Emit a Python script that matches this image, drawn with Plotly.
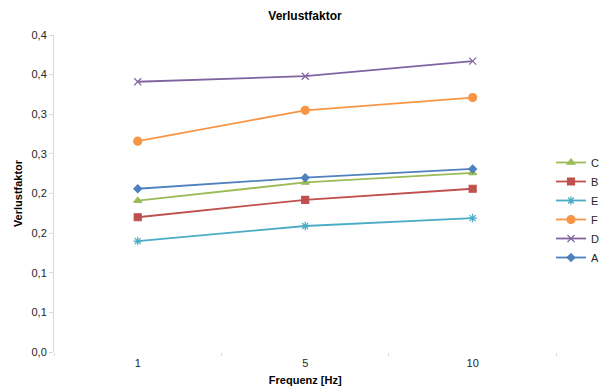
import plotly.graph_objects as go

# Frequencies (categories on the x axis)
frequenzen = ["1", "5", "10"]

# Loss factor per sample, one list per series
verlust_C = [0.191, 0.214, 0.226]
verlust_B = [0.170, 0.192, 0.206]
verlust_E = [0.140, 0.159, 0.169]
verlust_F = [0.266, 0.305, 0.321]
verlust_D = [0.341, 0.348, 0.367]
verlust_A = [0.206, 0.220, 0.231]

# y ticks every 0.05, labelled with one decimal and a decimal comma
y_tickvals = [0.0, 0.05, 0.10, 0.15, 0.20, 0.25, 0.30, 0.35, 0.40]
y_ticktext = ["0,0", "0,1", "0,1", "0,2", "0,2", "0,3", "0,3", "0,4", "0,4"]

series = [
    ("C", verlust_C, "#9BBB59", "triangle-up", 7),
    ("B", verlust_B, "#C0504D", "square", 7),
    ("E", verlust_E, "#4BACC6", "asterisk-open", 7),
    ("F", verlust_F, "#F79646", "circle", 8),
    ("D", verlust_D, "#8064A2", "x-thin-open", 7),
    ("A", verlust_A, "#4F81BD", "diamond", 6),
]

fig = go.Figure()
for name, vals, color, symbol, size in series:
    fig.add_trace(go.Scatter(
        x=frequenzen, y=vals, name=name, mode="lines+markers",
        line=dict(color=color, width=1.8),
        marker=dict(symbol=symbol, size=size, color=color,
                    line=dict(color=color, width=1.2)),
    ))

font_family = "Liberation Sans, Arial, sans-serif"

# Plot area spans the left 507 px of the 550 px wide paper; the legend sits
# in the remaining strip on the right, inside the paper.
W, H = 604, 387
ML, MR, MT, MB = 54, 0, 35, 35
paper_w = W - ML - MR
paper_h = H - MT - MB
plot_w = 507
legend_center_px = 210  # from the top of the page

fig.update_layout(
    width=W, height=H,
    margin=dict(l=ML, r=MR, t=MT, b=MB),
    paper_bgcolor="white", plot_bgcolor="white",
    font=dict(family=font_family, size=11, color="#262626"),
    title=dict(text="<b>Verlustfaktor</b>", x=0.505, xanchor="center",
               y=0.958, yanchor="middle",
               font=dict(size=12, color="#000000")),
    showlegend=True,
    legend=dict(x=(556 - ML) / paper_w, xanchor="left",
                y=(H - MB - legend_center_px) / paper_h,
                yanchor="middle",
                traceorder="normal", itemwidth=30,
                font=dict(size=11, color="#262626"),
                bgcolor="rgba(0,0,0,0)", tracegroupgap=0),
    xaxis=dict(
        type="category", range=[-0.5, 2.5], automargin=False,
        domain=[0, plot_w / paper_w],
        showline=False, showgrid=False, zeroline=False,
        ticks="outside", tickson="boundaries", ticklen=3,
        tickcolor="#d9d9d9", tickfont=dict(size=11, color="#262626"),
        ticklabelstandoff=3,
        title=dict(text="<b>Frequenz [Hz]</b>", standoff=8,
                   font=dict(size=11, color="#000000")),
    ),
    yaxis=dict(
        range=[0, 0.4], tickvals=y_tickvals, ticktext=y_ticktext,
        automargin=False,
        showline=True, linecolor="#d9d9d9", linewidth=1,
        showgrid=False, zeroline=False,
        ticks="outside", ticklen=4, tickcolor="#d9d9d9",
        tickfont=dict(size=11, color="#262626"),
        title=dict(text="<b>Verlustfaktor</b>", standoff=6,
                   font=dict(size=11, color="#000000")),
    ),
)

fig.write_html("out.html")
